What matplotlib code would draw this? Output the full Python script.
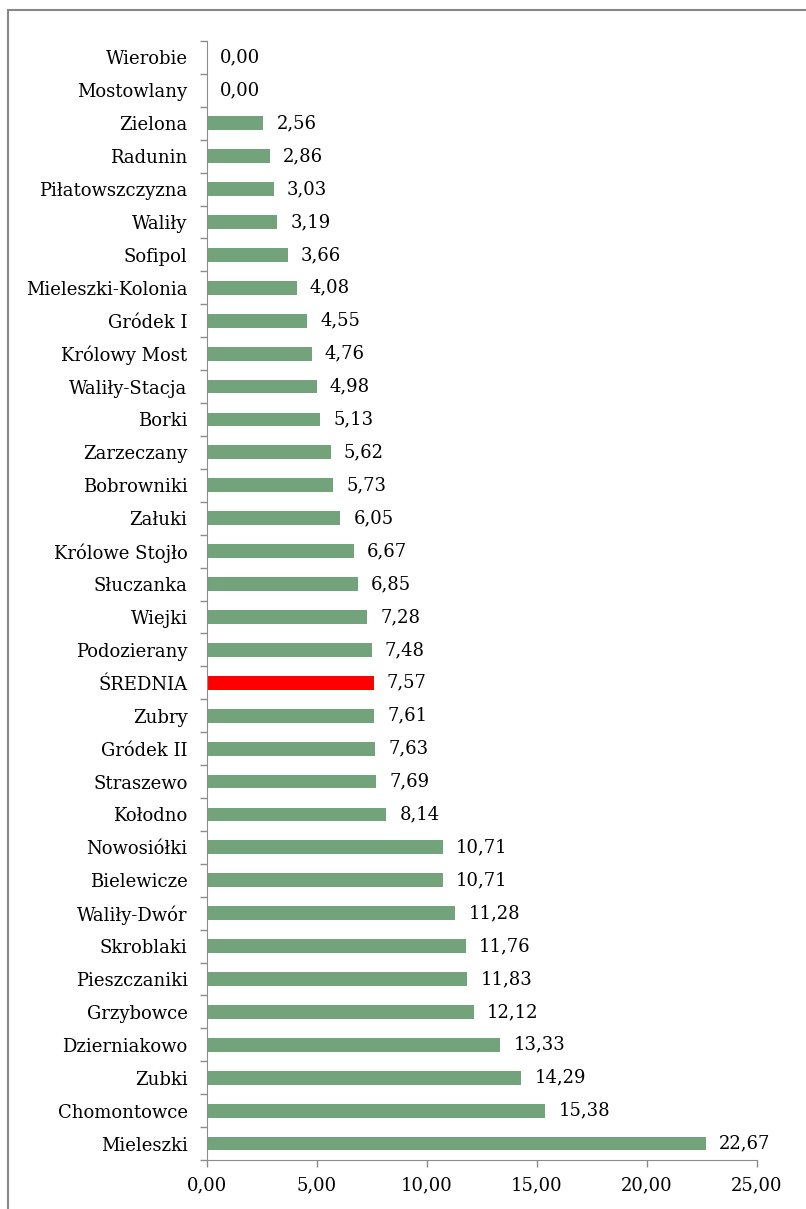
import matplotlib.pyplot as plt
from matplotlib.patches import Rectangle

# data (top to bottom)
miejscowosci = ["Wierobie", "Mostowlany", "Zielona", "Radunin", "Piłatowszczyzna",
                "Waliły", "Sofipol", "Mieleszki-Kolonia", "Gródek I", "Królowy Most",
                "Waliły-Stacja", "Borki", "Zarzeczany", "Bobrowniki", "Załuki",
                "Królowe Stojło", "Słuczanka", "Wiejki", "Podozierany", "ŚREDNIA",
                "Zubry", "Gródek II", "Straszewo", "Kołodno", "Nowosiółki",
                "Bielewicze", "Waliły-Dwór", "Skroblaki", "Pieszczaniki", "Grzybowce",
                "Dzierniakowo", "Zubki", "Chomontowce", "Mieleszki"]
wartosci = [0.00, 0.00, 2.56, 2.86, 3.03, 3.19, 3.66, 4.08, 4.55, 4.76,
            4.98, 5.13, 5.62, 5.73, 6.05, 6.67, 6.85, 7.28, 7.48, 7.57,
            7.61, 7.63, 7.69, 8.14, 10.71, 10.71, 11.28, 11.76, 11.83, 12.12,
            13.33, 14.29, 15.38, 22.67]
x_ticks = [0, 5, 10, 15, 20, 25]

plt.rcParams['font.family'] = ['DejaVu Serif']
fs = 13

fig = plt.figure(figsize=(8.06, 12.09), dpi=100)
ax = fig.add_axes([207/806, 1-1160/1209, 550/806, 1119/1209])

kolory = ["#ff0000" if m == "ŚREDNIA" else "#72a37a" for m in miejscowosci]
pos = list(range(len(miejscowosci)))
ax.barh(pos, wartosci, height=0.42, color=kolory)
ax.set_ylim(len(miejscowosci)-0.5, -0.5)
ax.set_xlim(0, 25)

for p, v in zip(pos, wartosci):
    ax.text(v + 0.6, p, f"{v:.2f}".replace(".", ","), va="center", ha="left", fontsize=fs)

ax.set_yticks(pos)
ax.set_yticklabels(miejscowosci, fontsize=fs)
ax.set_yticks([p + 0.5 for p in range(-1, len(pos))], minor=True)
ax.tick_params(axis="y", which="major", length=0, pad=14)
ax.tick_params(axis="y", which="minor", length=5, color="#8c8c8c", width=1)
ax.set_xticks(x_ticks)
ax.set_xticklabels([f"{t:.2f}".replace(".", ",") for t in x_ticks], fontsize=fs)
ax.tick_params(axis="x", length=5, color="#8c8c8c", width=1, pad=7)

for s in ["top", "right"]:
    ax.spines[s].set_visible(False)
for s in ["left", "bottom"]:
    ax.spines[s].set_color("#8c8c8c")

# ramka wykresu
fig.patches.append(Rectangle((8/806, -0.1), 1.2, 1.1 - 10/1209, transform=fig.transFigure,
                             fill=False, edgecolor="#888888", linewidth=1.5))

fig.savefig("out.png", dpi=100)
